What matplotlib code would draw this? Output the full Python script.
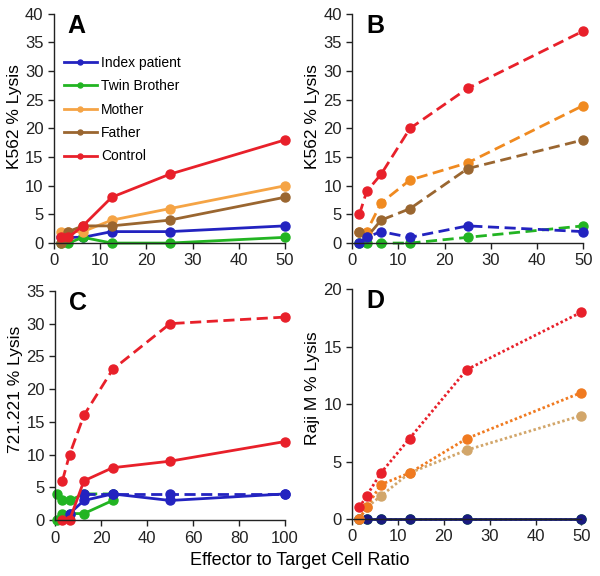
import matplotlib
matplotlib.use("Agg")
import matplotlib.pyplot as plt
from matplotlib import font_manager

REGULAR = ['Liberation Sans', 'DejaVu Sans']
try:
    font_manager.findfont('Liberation Sans Narrow', fallback_to_default=False)
    has_narrow = True
except ValueError:
    has_narrow = False
NARROW = ['Liberation Sans Narrow'] + REGULAR if has_narrow else REGULAR
plt.rcParams['font.family'] = NARROW

# E:T ratios
et = [1.5625, 3.125, 6.25, 12.5, 25, 50]

# Panel A - K562, solid
a_index = [1, 1, 1, 2, 2, 3]
a_twin = [0, 0, 1, 0, 0, 1]
a_mother = [2, 2, 2, 4, 6, 10]
a_father = [0, 2, 3, 3, 4, 8]
a_control = [1, 1, 3, 8, 12, 18]

# Panel B - K562, dashed
b_index = [0, 1, 2, 1, 3, 2]
b_twin = [0, 0, 0, 0, 1, 3]
b_mother = [2, 2, 7, 11, 14, 24]
b_father = [2, 1, 4, 6, 13, 18]
b_control = [5, 9, 12, 20, 27, 37]

# Panel C - 721.221
c_red_dash_x = [3.125, 6.25, 12.5, 25, 50, 100]
c_red_dash = [6, 10, 16, 23, 30, 31]
c_red_solid_x = [3.125, 6.25, 12.5, 25, 50, 100]
c_red_solid = [0, 0, 6, 8, 9, 12]
c_blue_solid_x = [6.25, 12.5, 25, 50, 100]
c_blue_solid = [1, 3, 4, 3, 4]
c_blue_dash_x = [12.5, 25, 50, 100]
c_blue_dash = [4, 4, 4, 4]
c_green_x = [1, 3.125, 6.25, 12.5, 25]
c_green_dash = [4, 3, 3, 4, 4]
c_green_solid = [0, 1, 1, 1, 3]

# Panel D - Raji M, dotted
d_control = [1, 2, 4, 7, 13, 18]
d_mother = [0, 1, 3, 4, 7, 11]
d_father = [0, 1, 2, 4, 6, 9]
d_index = [0, 0, 0, 0, 0, 0]
d_twin = [0, 0, 0, 0, 0, 0]

blue = '#2323C0'
green = '#22B422'
lorange = '#F5A445'
brown = '#9A6630'
red = '#E8202A'
orange_b = '#F08A20'
orange_d = '#F07A20'
tan = '#D2A66A'
navy = '#1A1A80'

fig = plt.figure(figsize=(6, 5.76), dpi=100)
axA = fig.add_axes([0.09, 0.578, 0.385, 0.398])
axB = fig.add_axes([0.587, 0.578, 0.385, 0.398])
axC = fig.add_axes([0.092, 0.097, 0.383, 0.398])
axD = fig.add_axes([0.587, 0.099, 0.382, 0.399])

lw = 2
ms = 6.5


def draw(ax, x, y, color, ls='-', label=None, dashes=None):
    kw = dict(color=color, lw=lw, marker='o', ms=ms, clip_on=False, label=label)
    line, = ax.plot(x, y, ls, **kw)
    if dashes is not None:
        line.set_dashes(dashes)
    return line


# A
draw(axA, et, a_index, blue, label='Index patient')
draw(axA, et, a_twin, green, label='Twin Brother')
draw(axA, et, a_mother, lorange, label='Mother')
draw(axA, et, a_father, brown, label='Father')
draw(axA, et, a_control, red, label='Control')
leg = axA.legend(loc='upper left', bbox_to_anchor=(0.0, 0.86), frameon=False,
                 prop={'family': REGULAR, 'size': 10}, handlelength=2.4, markerscale=0.55,
                 labelspacing=0.68, handletextpad=0.3, borderaxespad=0.3)

# B
dsh = (4, 2)
draw(axB, et, b_control, red, '--', dashes=dsh)
draw(axB, et, b_mother, orange_b, '--', dashes=dsh)
draw(axB, et, b_father, brown, '--', dashes=dsh)
draw(axB, et, b_twin, green, '--', dashes=dsh)
draw(axB, et, b_index, blue, '--', dashes=dsh)

# C
draw(axC, c_green_x, c_green_dash, green, '--', dashes=dsh)
draw(axC, c_green_x, c_green_solid, green)
draw(axC, c_blue_dash_x, c_blue_dash, blue, '--', dashes=dsh)
draw(axC, c_blue_solid_x, c_blue_solid, blue)
draw(axC, c_red_solid_x, c_red_solid, red)
draw(axC, c_red_dash_x, c_red_dash, red, '--', dashes=dsh)

# D
dot = (0.9, 0.9)
draw(axD, et, d_twin, green, ':', dashes=dot)
draw(axD, et, d_index, navy, '-')
draw(axD, et, d_father, tan, ':', dashes=dot)
draw(axD, et, d_mother, orange_d, ':', dashes=dot)
draw(axD, et, d_control, red, ':', dashes=dot)

settings = [
    (axA, 'A', (0, 50), (0, 40), range(0, 51, 10), range(0, 41, 5), 'K562 % Lysis', 0.55),
    (axB, 'B', (0, 50), (0, 40), range(0, 51, 10), range(0, 41, 5), 'K562 % Lysis', 0.55),
    (axC, 'C', (0, 100), (0, 35), range(0, 101, 20), range(0, 36, 5), '721.221 % Lysis', 0.57),
    (axD, 'D', (0, 50), (0, 20), range(0, 51, 10), range(0, 21, 5), 'Raji M % Lysis', 0.57),
]
ylab_size = 14.5 if has_narrow else 12.5
for ax, letter, xl, yl, xt, yt, ylab, ly in settings:
    ax.set_xlim(*xl)
    ax.set_ylim(*yl)
    ax.set_xticks(list(xt))
    ax.set_yticks(list(yt))
    ax.spines['top'].set_visible(False)
    ax.spines['right'].set_visible(False)
    for s in ('left', 'bottom'):
        ax.spines[s].set_color('#222222')
        ax.spines[s].set_linewidth(1)
    ax.tick_params(direction='out', length=4, width=1, labelsize=12, colors='#222222')
    ax.set_ylabel(ylab, fontsize=ylab_size)
    ax.yaxis.set_label_coords(-0.14, ly)
    ax.text(0.06, 1.0, letter, transform=ax.transAxes, fontsize=18,
            fontweight='bold', va='top', ha='left', family=REGULAR)

fig.text(0.5, 0.027, 'Effector to Target Cell Ratio', ha='center', va='center', fontsize=13,
         family=REGULAR)

fig.savefig('out.png', dpi=100)
